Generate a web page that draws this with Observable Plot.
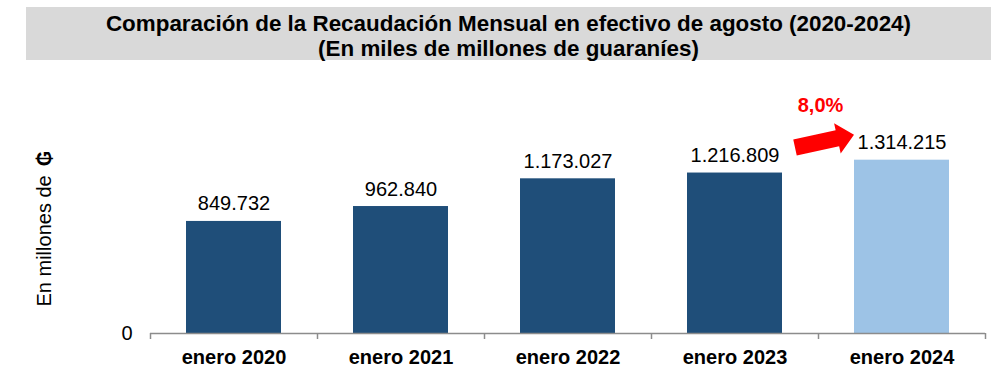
<!DOCTYPE html>
<html><head><meta charset="utf-8">
<script src="https://cdn.jsdelivr.net/npm/d3@7"></script>
<script src="https://cdn.jsdelivr.net/npm/@observablehq/plot@0.6"></script>
<style>
body{margin:0;background:#fff;font-family:"Liberation Sans",Arial,sans-serif;}
#title{margin:7px 17px 0 26px;height:53px;background:#D9D9D9;text-align:center;font-weight:bold;font-size:22.4px;line-height:25px;padding-top:4px;box-sizing:border-box;color:#000;white-space:nowrap;}
#chart svg{display:block;}
</style></head><body>
<div id="title">Comparación de la Recaudación Mensual en efectivo de agosto (2020-2024)<br>(En miles de millones de guaraníes)</div>
<div id="chart"></div>
<script>
const categories = ["enero 2020", "enero 2021", "enero 2022", "enero 2023", "enero 2024"];
const values = [849732, 962840, 1173027, 1216809, 1314215];
const valueLabels = ["849.732", "962.840", "1.173.027", "1.216.809", "1.314.215"];
const highlight = [false, false, false, false, true];
const growthLabel = "8,0%";
const yTicks = [0];
const yLabelMain = "En millones de";
const yLabelSymbol = "₲";

const W = 1008, H = 330, mL = 150, mR = 23, mT = 62, mB = 57;
const step = (W - mL - mR) / categories.length;
const data = categories.map((c, i) => ({cat: c, value: values[i], label: valueLabels[i], hl: highlight[i]}));

const arrowMark = (index, scales) => {
  const x = scales.x, y = scales.y;
  const bw = x.bandwidth();
  const a = categories[3], b = categories[4];
  const T = [x(a) + bw + 13, y(values[3]) - 25];
  const P = [x(b), y(values[4]) - 25];
  const dx = P[0] - T[0], dy = P[1] - T[1], L = Math.hypot(dx, dy);
  const u = [dx / L, dy / L], n = [-u[1], u[0]];
  const hw = 8.2, hh = 15.5, hl = 17;
  const B = [P[0] - u[0] * hl, P[1] - u[1] * hl];
  const pt = (p, k) => [p[0] + n[0] * k, p[1] + n[1] * k];
  const pts = [pt(T, hw), pt(B, hw), pt(B, hh), P, pt(B, -hh), pt(B, -hw), pt(T, -hw)];
  return d3.create("svg:path").attr("d", "M" + pts.map(p => p.join(",")).join("L") + "Z").attr("fill", "#FF0000").node();
};

const chart = Plot.plot({
  width: W, height: H,
  marginLeft: mL, marginRight: mR, marginTop: mT, marginBottom: mB,
  style: {fontFamily: "'Liberation Sans', Arial, sans-serif", color: "#000", background: "#fff"},
  x: {domain: categories, paddingInner: 0.43, paddingOuter: 0.215, label: null},
  y: {domain: [0, 1600000], label: null},
  marks: [
    Plot.barY(data, {x: "cat", y: "value", fill: d => d.hl ? "#9DC3E6" : "#1F4E79"}),
    Plot.ruleY([0], {stroke: "#8c8c8c", strokeWidth: 1.5}),
    Plot.ruleX(categories, {x: d => d, dx: -step / 2, y1: 0, y2: 0, insetBottom: -6, stroke: "#8c8c8c", strokeWidth: 1.5}),
    Plot.ruleX([categories[categories.length - 1]], {x: d => d, dx: step / 2, y1: 0, y2: 0, insetBottom: -6, stroke: "#8c8c8c", strokeWidth: 1.5}),
    Plot.axisX({tickSize: 0, tickPadding: 16, fontSize: 20, fontWeight: "bold", label: null}),
    Plot.axisY({ticks: yTicks, tickSize: 0, tickPadding: 18, fontSize: 20, label: null, tickFormat: d => String(d)}),
    Plot.text(data, {x: "cat", y: "value", text: "label", dy: -11, lineAnchor: "bottom", fontSize: 20, fill: "#000"}),
    Plot.text([growthLabel], {x: () => categories[4], y: () => values[4], text: d => d, dx: -step / 2 + 2, dy: -48, lineAnchor: "bottom", fontSize: 20, fontWeight: "bold", fill: "#FF0000"}),
    arrowMark,
    Plot.text([yLabelMain], {frameAnchor: "bottom-left", text: d => d, dx: -106, dy: -27, rotate: -90, textAnchor: "start", lineAnchor: "middle", fontSize: 20, fill: "#000"}),
    Plot.text([yLabelSymbol], {frameAnchor: "bottom-left", text: d => d, dx: -106, dy: -175, rotate: -90, textAnchor: "middle", lineAnchor: "middle", fontSize: 20, fontWeight: "bold", fill: "#000"})
  ]
});
document.getElementById("chart").appendChild(chart);
</script>
</body></html>
